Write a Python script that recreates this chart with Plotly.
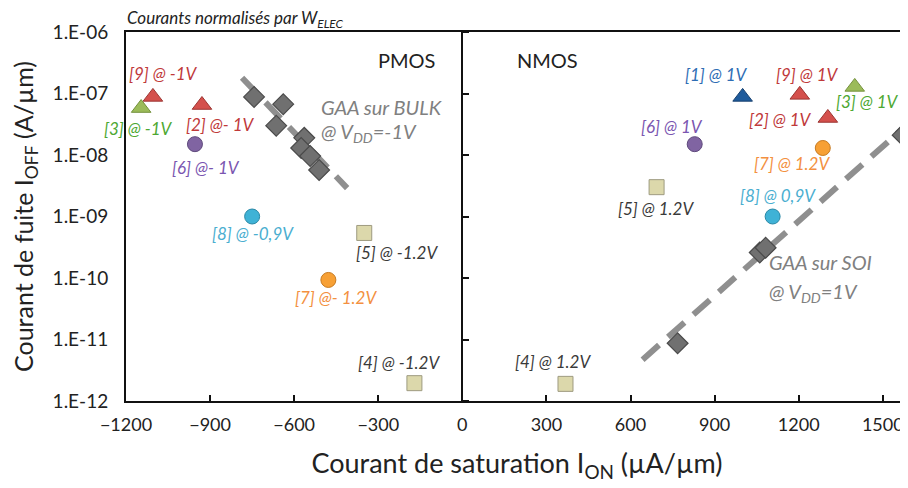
import plotly.graph_objects as go
import numpy as np

# ---------------- data ----------------
pmos_refs = ["9", "3", "2", "6", "8", "5", "7", "4"]
pmos_labels = ["[9] @ -1V", "[3] @ -1V", "[2] @- 1V", "[6] @- 1V",
               "[8] @ -0,9V", "[5] @ -1.2V", "[7] @- 1.2V", "[4] @ -1.2V"]
pmos_ion = [-1104, -1146, -929, -954, -750, -350, -478, -171]
pmos_ioff = [8.8e-8, 5.8e-8, 6.5e-8, 1.5e-8, 1.0e-9, 5.4e-10, 9.3e-11, 1.95e-12]

nmos_refs = ["1", "9", "3", "2", "6", "7", "5", "8", "4"]
nmos_labels = ["[1] @ 1V", "[9] @ 1V", "[3] @ 1V", "[2] @ 1V", "[6] @ 1V",
               "[7] @ 1.2V", "[5] @ 1.2V", "[8] @ 0,9V", "[4] @ 1.2V"]
nmos_ion = [1000, 1204, 1400, 1304, 829, 1286, 693, 1107, 368]
nmos_ioff = [8.8e-8, 9.5e-8, 1.28e-7, 4.0e-8, 1.5e-8, 1.3e-8, 3.0e-9, 1.0e-9, 1.9e-12]

gaa_bulk_ion = [-743, -639, -664, -564, -575, -543, -511]
gaa_bulk_ioff = [8.8e-8, 6.7e-8, 3.0e-8, 1.9e-8, 1.3e-8, 9.6e-9, 5.7e-9]
gaa_bulk_fit_ion = [-786, -411]
gaa_bulk_fit_ioff = [1.8e-7, 2.9e-9]

gaa_soi_ion = [1061, 1082, 768, 1571]
gaa_soi_ioff = [2.6e-10, 3.1e-10, 8.7e-12, 2.1e-8]
gaa_soi_fit_ion = [643, 1600]
gaa_soi_fit_ioff = [4.7e-12, 3.5e-8]

ytick_vals = [1e-12, 1e-11, 1e-10, 1e-9, 1e-8, 1e-7, 1e-6]
ytick_text = ["1.E-12", "1.E-11", "1.E-10", "1.E-09", "1.E-08", "1.E-07", "1.E-06"]
xtick_vals = [-1200, -900, -600, -300, 0, 300, 600, 900, 1200, 1500]

# ---------------- styles ----------------
FONT = "Lato, 'Open Sans', sans-serif"
marker_style = {
    "1": dict(symbol="triangle-up", color="#1f5b9c", line="#163f6e", text="#2e6db4", size=17),
    "2": dict(symbol="triangle-up", color="#d4504c", line="#9c3532", text="#c0393a", size=17),
    "9": dict(symbol="triangle-up", color="#d4504c", line="#9c3532", text="#c0393a", size=17),
    "3": dict(symbol="triangle-up", color="#9bbb59", line="#74913c", text="#4da832", size=17),
    "6": dict(symbol="circle", color="#8064a2", line="#5f4a7c", text="#7a55b0", size=15),
    "7": dict(symbol="circle", color="#f7a035", line="#c77a20", text="#f39040", size=15),
    "8": dict(symbol="circle", color="#3fb2d6", line="#2a88a6", text="#4aaed0", size=15),
    "5": dict(symbol="square", color="#dcd8ab", line="#9e9b80", text="#3a3a3a", size=15),
    "4": dict(symbol="square", color="#dcd8ab", line="#9e9b80", text="#3a3a3a", size=15),
}
pmos_offsets = [(11, 23), (-3, -20), (19, -19), (11, -23), (1, -17), (33, -20), (8, -18), (-15, 21)]
nmos_offsets = [(-26, 22), (8, 20), (13, -15), (-47, -2), (-23, 18), (-31, -16), (-1, -21), (5, 21), (-12, 22)]

fig = go.Figure()

# dashed trend lines
for xs, ys in [(gaa_bulk_fit_ion, gaa_bulk_fit_ioff), (gaa_soi_fit_ion, gaa_soi_fit_ioff)]:
    fig.add_trace(go.Scatter(x=xs, y=ys, mode="lines",
                             line=dict(color="#8f8f8f", width=6, dash="22px,12px"),
                             hoverinfo="skip", showlegend=False))

# GAA diamonds
for xs, ys in [(gaa_bulk_ion, gaa_bulk_ioff), (gaa_soi_ion, gaa_soi_ioff)]:
    fig.add_trace(go.Scatter(x=xs, y=ys, mode="markers",
                             marker=dict(symbol="diamond", size=16, color="#707070",
                                         line=dict(color="#4a4a4a", width=1.2)),
                             showlegend=False))

annotations = []
for refs, labels, xs, ys, offs in [(pmos_refs, pmos_labels, pmos_ion, pmos_ioff, pmos_offsets),
                                   (nmos_refs, nmos_labels, nmos_ion, nmos_ioff, nmos_offsets)]:
    for r, lab, x, y, (dx, dy) in zip(refs, labels, xs, ys, offs):
        st = marker_style[r]
        fig.add_trace(go.Scatter(x=[x], y=[y], mode="markers",
                                 marker=dict(symbol=st["symbol"], size=st["size"], color=st["color"],
                                             line=dict(color=st["line"], width=1)),
                                 showlegend=False))
        annotations.append(dict(x=x, y=np.log10(y), xref="x", yref="y", text=lab, showarrow=False,
                                xshift=dx, yshift=dy,
                                font=dict(family=FONT, size=17, color=st["text"], style="italic")))

# invisible trace for the y axis crossing at 0
fig.add_trace(go.Scatter(x=[0], y=[1e-9], yaxis="y2", mode="markers",
                         marker=dict(opacity=0), hoverinfo="skip", showlegend=False))

gray_txt = dict(family=FONT, size=20, color="#808080", style="italic")
annotations += [
    dict(x=-200, y=-6.455, xref="x", yref="y", text="PMOS", showarrow=False,
         font=dict(family=FONT, size=20, color="#222")),
    dict(x=304, y=-6.455, xref="x", yref="y", text="NMOS", showarrow=False,
         font=dict(family=FONT, size=20, color="#222")),
    dict(x=-511, y=-7.22, xref="x", yref="y", text="GAA sur BULK", showarrow=False,
         xanchor="left", font=gray_txt),
    dict(x=-511, y=-7.64, xref="x", yref="y", text="@ V<sub>DD</sub>=-1V", showarrow=False,
         xanchor="left", font=gray_txt),
    dict(x=1086, y=-9.74, xref="x", yref="y", text="GAA sur SOI", showarrow=False,
         xanchor="left", font=gray_txt),
    dict(x=1086, y=-10.23, xref="x", yref="y", text="@ V<sub>DD</sub>=1V", showarrow=False,
         xanchor="left", font=gray_txt),
    dict(x=0, y=1, xref="paper", yref="paper", xanchor="left", yanchor="bottom", yshift=0,
         text="Courants normalisés par W<sub>ELEC</sub>", showarrow=False, borderpad=0,
         font=dict(family=FONT, size=17, color="#222", style="italic")),
]

fig.update_layout(
    width=900, height=480,
    margin=dict(l=118, r=0, t=24, b=87),
    paper_bgcolor="white", plot_bgcolor="white",
    font=dict(family=FONT, color="#222"),
    annotations=annotations,
    xaxis=dict(range=[-1200, 1590], tickvals=xtick_vals, ticks="inside", ticklen=6,
               tickcolor="#111", tickwidth=1.5, ticklabelstandoff=6,
               showline=True, linecolor="#111", linewidth=2, mirror=True,
               showgrid=False, zeroline=True, zerolinecolor="#111", zerolinewidth=2,
               tickfont=dict(family=FONT, size=18, color="#222"), automargin=False,
               title=dict(text="Courant de saturation I<sub>ON</sub> (µA/µm)",
                          font=dict(family=FONT, size=27, color="#222"), standoff=21)),
    yaxis=dict(type="log", range=[-12, -6], tickvals=ytick_vals, ticktext=ytick_text,
               ticks="", showline=True, linecolor="#111", linewidth=2, mirror=False,
               showgrid=False, zeroline=False, ticklabelstandoff=12, automargin=False,
               tickfont=dict(family=FONT, size=19, color="#222"),
               title=dict(text="Courant de fuite I<sub>OFF</sub> (A/µm)",
                          font=dict(family=FONT, size=25, color="#222"), standoff=16)),
    yaxis2=dict(type="log", range=[-12, -6], overlaying="y", anchor="free",
                position=1200 / 2790, side="right", tickvals=ytick_vals, ticks="outside",
                ticklen=6, tickcolor="#111", tickwidth=1.5, showticklabels=False,
                showline=False, showgrid=False, zeroline=False),
)

fig.write_html("out.html")
